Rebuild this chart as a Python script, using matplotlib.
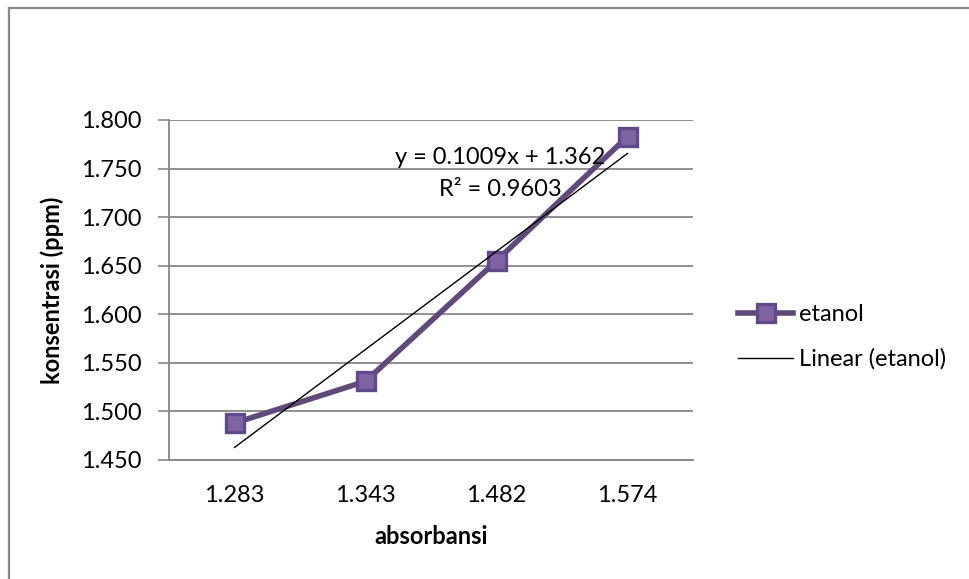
import numpy as np
import matplotlib.pyplot as plt
from matplotlib.lines import Line2D

plt.rcParams['font.family'] = ['Lato', 'DejaVu Sans']

# absorbance categories and measured concentration
absorbansi = ['1.283', '1.343', '1.482', '1.574']
konsentrasi = [1.488, 1.531, 1.655, 1.783]

# linear trendline (x = category index 1..4)
slope = 0.1009
intercept = 1.362
r_squared = 0.9603

W, H = 969, 579
fig = plt.figure(figsize=(W / 100, H / 100), dpi=100)
ax = fig.add_axes([169 / W, 1 - 460 / H, (693 - 169) / W, (460 - 120) / H])

x = np.arange(1, len(absorbansi) + 1)
ax.plot(x, konsentrasi, color='#604A7B', lw=4.0, marker='s', ms=13,
        mfc='#8064A2', mec='#5F4B8B', mew=2.4, label='etanol', zorder=3,
        solid_joinstyle='round')

xt = np.array([1, len(absorbansi)])
ax.plot(xt, slope * xt + intercept, color='black', lw=1.0,
        label='Linear (etanol)', zorder=4)

fs = 17
ax.set_xlim(0.5, len(absorbansi) + 0.5)
ax.set_ylim(1.45, 1.80)
ax.set_xticks(x)
ax.set_xticklabels(absorbansi)
yt = np.arange(1.45, 1.8001, 0.05)
ax.set_yticks(yt)
ax.set_yticklabels([f'{v:.3f}' for v in yt])
ax.tick_params(axis='x', length=0, labelsize=fs, pad=18)
ax.tick_params(axis='y', length=8, width=1.2, color='#868686', labelsize=fs, pad=12)
ax.grid(axis='y', color='#868686', lw=1.3)
ax.set_axisbelow(True)
for s in ['top', 'right']:
    ax.spines[s].set_visible(False)
for s in ['left', 'bottom']:
    ax.spines[s].set_color('#868686')
    ax.spines[s].set_linewidth(1.3)

ax.set_xlabel('absorbansi', fontsize=fs, fontweight='bold', labelpad=14)
ax.set_ylabel('konsentrasi (ppm)', fontsize=fs, fontweight='bold', labelpad=12)

ax.text(500 / W, 1 - 158 / H, f'y = {slope}x + {intercept}',
        transform=fig.transFigure, fontsize=fs, ha='center', va='center')
ax.text(500 / W, 1 - 189 / H, f'R² = {r_squared}',
        transform=fig.transFigure, fontsize=fs, ha='center', va='center')

ax.legend(loc='center left', bbox_to_anchor=(729 / W, 1 - 337 / H),
          bbox_transform=fig.transFigure, frameon=False, fontsize=fs,
          handlelength=2.3, handletextpad=0.25, labelspacing=1.0,
          borderaxespad=0)

# outer chart border (clipped at right and bottom)
bc = '#898989'
fig.add_artist(Line2D([9 / W, 1.01], [1 - 8 / H, 1 - 8 / H], color=bc, lw=1.6,
                      transform=fig.transFigure))
fig.add_artist(Line2D([9 / W, 9 / W], [1 - 8 / H, -0.01], color=bc, lw=1.6,
                      transform=fig.transFigure))

fig.savefig('out.png', dpi=100)
